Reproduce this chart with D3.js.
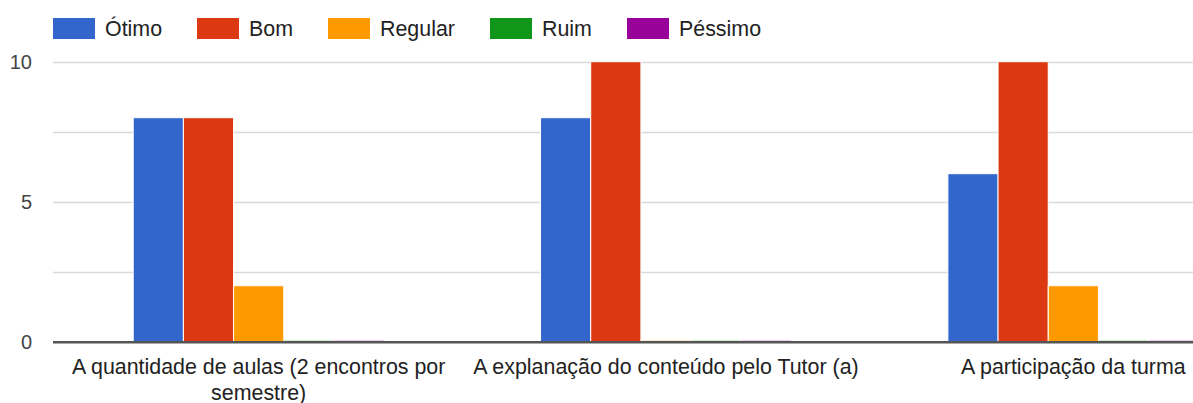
<!DOCTYPE html>
<html>
<head>
<meta charset="utf-8">
<script src="https://cdn.jsdelivr.net/npm/d3@7"></script>
<style>
  body { margin: 0; background: #fff; overflow: hidden; }
  text { font-family: Arial, "Liberation Sans", sans-serif; }
</style>
</head>
<body>
<div class="chart-area"></div>
<script>
// categories (questions) and answer series
const categories = [
  "A quantidade de aulas (2 encontros por semestre)",
  "A explanação do conteúdo pelo Tutor (a)",
  "A participação da turma"
];
const seriesNames = ["Ótimo", "Bom", "Regular", "Ruim", "Péssimo"];
const seriesColors = ["#3366cc", "#dc3912", "#ff9900", "#109618", "#990099"];
const otimo   = [8, 8, 6];
const bom     = [8, 10, 10];
const regular = [2, 0, 2];
const ruim    = [0, 0, 0];
const pessimo = [0, 0, 0];
const yTicks = [0, 5, 10];
const yGrid = [0, 2.5, 5, 7.5, 10];

const values = [otimo, bom, regular, ruim, pessimo];

let width = 1193;
let height = 403;

const svg = d3.select(".chart-area").append("svg")
  .attr("width", width)
  .attr("height", height);

// plot goes past the right edge, like the original screenshot
const x = d3.scaleBand()
  .domain(categories)
  .range([55, 1277])
  .paddingInner(0.384)
  .paddingOuter(0.192);

const xs = d3.scaleBand()
  .domain(seriesNames)
  .range([0, x.bandwidth()]);

const y = d3.scaleLinear()
  .domain([0, 10])
  .range([341.7, 61.7]);

//gridlines
svg.append("g")
  .selectAll("line")
  .data(yGrid.filter(d => d !== 0))
  .enter()
  .append("line")
  .attr("x1", 53)
  .attr("x2", width)
  .attr("y1", d => Math.round(y(d)) + 0.5)
  .attr("y2", d => Math.round(y(d)) + 0.5)
  .attr("stroke", "#d9d9d9")
  .attr("stroke-width", 1.5);

//y labels
svg.append("g")
  .selectAll("text")
  .data(yTicks)
  .enter()
  .append("text")
  .attr("x", 32)
  .attr("y", d => y(d))
  .attr("dy", "0.36em")
  .attr("text-anchor", "end")
  .attr("font-size", 20)
  .attr("fill", "#444")
  .text(d => d);

//bars
const rows = [];
categories.forEach((c, i) => {
  seriesNames.forEach((s, j) => {
    rows.push({cat: c, series: s, value: values[j][i], color: seriesColors[j]});
  });
});

svg.append("g")
  .selectAll("rect")
  .data(rows)
  .enter()
  .append("rect")
  .attr("x", d => x(d.cat) + xs(d.series))
  .attr("width", xs.bandwidth())
  .attr("y", d => d.value > 0 ? y(d.value) : y(0) - 2)
  .attr("height", d => d.value > 0 ? y(0) - y(d.value) : 2)
  .attr("fill", d => d.color)
  .attr("opacity", d => d.value > 0 ? 1 : 0.25)
  .attr("stroke", "#fff")
  .attr("stroke-width", 1);

//baseline
svg.append("line")
  .attr("x1", 53)
  .attr("x2", width)
  .attr("y1", y(0) + 0.5)
  .attr("y2", y(0) + 0.5)
  .attr("stroke", "#555")
  .attr("stroke-width", 2.5);

//x labels, wrapped to the band width
const xLab = svg.append("g")
  .selectAll("text")
  .data(categories)
  .enter()
  .append("text")
  .attr("x", d => x(d) + x.bandwidth() / 2)
  .attr("y", 374)
  .attr("text-anchor", "middle")
  .attr("font-size", 21.4)
  .attr("fill", "#222");

xLab.each(function(d) {
  const t = d3.select(this);
  const words = d.split(" ");
  let line = [];
  let tspan = t.append("tspan").attr("x", t.attr("x")).attr("dy", 0);
  words.forEach(w => {
    line.push(w);
    tspan.text(line.join(" "));
    if (tspan.node().getComputedTextLength() > 405 && line.length > 1) {
      line.pop();
      tspan.text(line.join(" "));
      line = [w];
      tspan = t.append("tspan").attr("x", t.attr("x")).attr("dy", 26).text(w);
    }
  });
});

//legend
const legendX = [53, 197, 328, 490, 627];
const legend = svg.append("g")
  .selectAll("g")
  .data(seriesNames)
  .enter()
  .append("g")
  .attr("transform", (d, i) => `translate(${legendX[i]},18)`);

legend.append("rect")
  .attr("width", 42)
  .attr("height", 21)
  .attr("fill", (d, i) => seriesColors[i]);

legend.append("text")
  .attr("x", 52)
  .attr("y", 18)
  .attr("font-size", 21.4)
  .attr("fill", "#222")
  .text(d => d);
</script>
</body>
</html>
